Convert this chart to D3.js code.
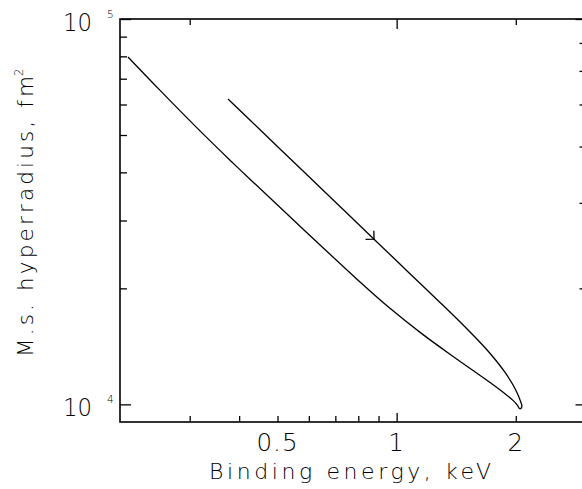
<!DOCTYPE html>
<html>
<head>
<meta charset="utf-8">
<script src="https://cdn.jsdelivr.net/npm/d3@7"></script>
<style>
  body { margin: 0; background: #fff; }
  svg { display: block; }
  text { font-family: "DejaVu Sans", "Liberation Sans", sans-serif; font-weight: 200; fill: #000; }
</style>
</head>
<body>
<div id="chart"></div>
<script>
// curve, in drawing order: lower branch down to the tip, then upper branch back up
const curveE = [0.2095, 0.2525, 0.3185, 0.3793, 0.4261, 0.5699, 0.7939, 0.9619, 1.1659, 1.4207, 1.7216,
                1.8783, 1.9676, 2.0198, 2.0458, 2.0650, 2.0722,
                2.0542, 2.0316, 1.9988, 1.9484, 1.8750, 1.7949, 1.6923, 1.5682, 1.4215, 1.2679,
                1.1788, 1.0191, 0.8767, 0.7192, 0.5766, 0.4663, 0.3749];
const curveR = [79700, 65270, 51240, 43020, 38400, 29000, 21130, 17755, 15170, 13100, 11400,
                10660, 10240, 9944, 9743, 9785, 9932,
                10203, 10513, 10896, 11428, 12134, 12880, 13840, 15046, 16660, 18658,
                20040, 23130, 26830, 32620, 40560, 50000, 62010];
const arrowIndex = 29;   // arrow head sits on this point, pointing toward the tip

const xMinorTicks = [0.3, 0.4, 0.5, 0.6, 0.7, 0.8, 0.9, 2, 3];
const xMajorTicks = [1];
const xTopTicks = [0.3, 2];
const xTickLabels = ["0.5", "1", "2"];
const yMinorTicks = [2e4, 3e4, 4e4, 5e4, 6e4, 7e4, 8e4, 9e4];
const yMajorTicks = [1e4, 1e5];
const yRightTicks = [2e4, 3.333e4, 4.667e4, 6e4, 7.333e4, 8.667e4];
const yTickLabels = [["10", "4", 1e4], ["10", "5", 1e5]];

const width = 582, height = 489;
const margin = {top: 19, right: -3.5, bottom: 67, left: 120};

const svg = d3.select("#chart")
    .append("svg")
    .attr("width", width)
    .attr("height", height)
    .style("overflow", "hidden");

const x = d3.scaleLog().domain([0.2, 3]).range([margin.left, width - margin.right]);
const y = d3.scaleLog().domain([9000, 1e5]).range([height - margin.bottom, margin.top]);

// ticks, all pointing inward
function ticks(axis, values, size, transform) {
    const g = svg.append("g")
        .attr("transform", transform)
        .call(axis.tickValues(values).tickSizeInner(-size).tickSizeOuter(0).tickFormat(""));
    g.select(".domain").remove();
    g.selectAll("line").attr("stroke", "#000").attr("stroke-width", 1.3);
}
const yb = height - margin.bottom, yt = margin.top;
ticks(d3.axisBottom(x), xMinorTicks, 6, `translate(0,${yb})`);
ticks(d3.axisBottom(x), xMajorTicks, 9, `translate(0,${yb})`);
ticks(d3.axisTop(x), xTopTicks, 6, `translate(0,${yt})`);
ticks(d3.axisTop(x), xMajorTicks, 10, `translate(0,${yt})`);
ticks(d3.axisLeft(y), yMinorTicks, 7, `translate(${margin.left},0)`);
ticks(d3.axisLeft(y), yMajorTicks, 11, `translate(${margin.left},0)`);
ticks(d3.axisRight(y), yRightTicks, 6, `translate(${width - margin.right},0)`);
ticks(d3.axisRight(y), yMajorTicks, 10, `translate(${width - margin.right},0)`);

// frame
svg.append("rect")
    .attr("x", margin.left)
    .attr("y", margin.top)
    .attr("width", x.range()[1] - margin.left)
    .attr("height", yb - margin.top)
    .attr("fill", "none")
    .attr("stroke", "#000")
    .attr("stroke-width", 1.6);

// x tick labels
svg.selectAll(".xlab")
    .data(xTickLabels)
    .join("text")
    .attr("x", d => x(+d))
    .attr("y", 451)
    .attr("text-anchor", "middle")
    .attr("font-size", 24.5)
    .attr("letter-spacing", 1)
    .text(d => d);

// y tick labels: 10 with superscript
yTickLabels.forEach(([base, exp, v]) => {
    svg.append("text")
        .attr("x", 92)
        .attr("y", y(v) + 12)
        .attr("text-anchor", "end")
        .attr("font-size", 24.5)
        .attr("textLength", 29)
        .attr("lengthAdjust", "spacingAndGlyphs")
        .text(base);
    svg.append("text")
        .attr("x", 107)
        .attr("y", y(v) - 1.5)
        .attr("font-size", 10.5)
        .text(exp);
});

// axis titles
svg.append("text")
    .attr("x", 209)
    .attr("y", 479)
    .attr("font-size", 22)
    .attr("textLength", 282)
    .attr("lengthAdjust", "spacing")
    .text("Binding energy, keV");

svg.append("text")
    .attr("transform", "translate(33,357) rotate(-90)")
    .attr("font-size", 21.5)
    .attr("textLength", 281)
    .attr("lengthAdjust", "spacing")
    .text("M.s. hyperradius, fm");
svg.append("text")
    .attr("transform", "translate(23,76) rotate(-90)")
    .attr("font-size", 11.5)
    .text("2");

// the curve
const pts = curveE.map((e, i) => [x(e), y(curveR[i])]);
svg.append("path")
    .attr("d", d3.line().curve(d3.curveCatmullRom.alpha(0.5))(pts))
    .attr("fill", "none")
    .attr("stroke", "#000")
    .attr("stroke-width", 1.3);

// arrow head on the upper branch
const [ax, ay] = pts[arrowIndex];
const [bx, by] = pts[arrowIndex + 1];
const ang = Math.atan2(by - ay, bx - ax);   // pointing back along the curve
const wing = 8.5;
const w1 = [ax + wing * Math.cos(ang - Math.PI / 4), ay + wing * Math.sin(ang - Math.PI / 4)];
const w2 = [ax + wing * Math.cos(ang + Math.PI / 4), ay + wing * Math.sin(ang + Math.PI / 4)];
svg.append("path")
    .attr("d", d3.line()([w1, [ax, ay], w2]))
    .attr("fill", "none")
    .attr("stroke", "#000")
    .attr("stroke-width", 1.3);
</script>
</body>
</html>
